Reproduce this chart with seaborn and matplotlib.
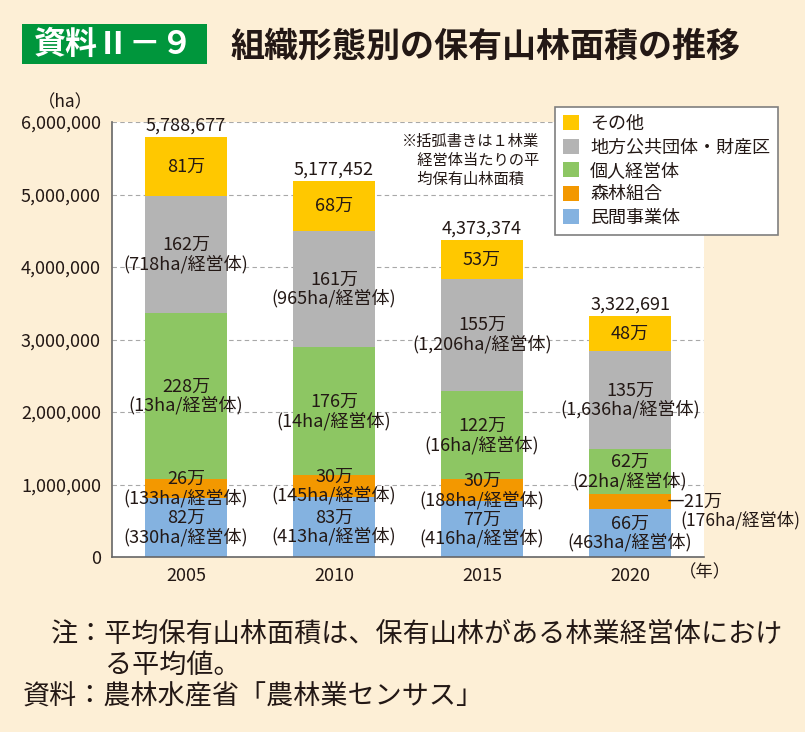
import matplotlib
matplotlib.use("Agg")
import numpy as np
import pandas as pd
import seaborn as sns
import matplotlib.pyplot as plt
from matplotlib.patches import Patch, Rectangle
from matplotlib.ticker import StrMethodFormatter, FixedLocator

# 値は万ha単位（図中のラベル）
years = ["2005", "2010", "2015", "2020"]
categories = ["民間事業体", "森林組合", "個人経営体", "地方公共団体・財産区", "その他"]
minkan = [82, 83, 77, 66]
kumiai = [26, 30, 30, 21]
kojin = [228, 176, 122, 62]
chiho = [162, 161, 155, 135]
sonota = [81, 68, 53, 48]
totals = [5788677, 5177452, 4373374, 3322691]

# 1林業経営体当たり平均保有山林面積（ha）
per_minkan = ["330", "413", "416", "463"]
per_kumiai = ["133", "145", "188", "176"]
per_kojin = ["13", "14", "16", "22"]
per_chiho = ["718", "965", "1,206", "1,636"]

colors = ["#84b2e0", "#f39800", "#8dc663", "#b4b4b4", "#ffc800"]
bg = "#fdefd6"
txt = "#231815"

sns.set_style("white")
plt.rcParams["font.family"] = ["Noto Sans CJK JP", "DejaVu Sans"]

layers = [minkan, kumiai, kojin, chiho, sonota]
per_ha = [per_minkan, per_kumiai, per_kojin, per_chiho, None]

df = pd.DataFrame({"year": years})
cum = np.zeros(len(years))
bottoms = []
for name, vals in zip(categories, layers):
    bottoms.append(cum.copy())
    cum = cum + np.array(vals) * 10000
    df[name] = cum

fig = plt.figure(figsize=(8.05, 7.32), dpi=100, facecolor=bg)
ax = fig.add_axes([112 / 805, 1 - 557 / 732, 592 / 805, 435 / 732])
ax.set_facecolor("white")

# 累積値を上の層から順に重ねて積み上げ棒にする
for k in reversed(range(len(categories))):
    sns.barplot(data=df, x="year", y=categories[k], color=colors[k], width=0.55,
                saturation=1, linewidth=0, errorbar=None, ax=ax, zorder=2)

ax.set_ylim(0, 6000000)
ax.set_xlim(-0.5, 3.5)
ax.set_xlabel("")
ax.set_ylabel("")
ax.yaxis.set_major_locator(FixedLocator(np.arange(0, 6000001, 1000000)))
ax.yaxis.set_major_formatter(StrMethodFormatter("{x:,.0f}"))
ax.yaxis.grid(True, linestyle=(0, (4, 3)), color="#a8a8a8", linewidth=0.8)
ax.set_axisbelow(True)

for s in ["top", "right"]:
    ax.spines[s].set_visible(False)
for s in ["left", "bottom"]:
    ax.spines[s].set_color("#666666")
    ax.spines[s].set_linewidth(1.2)

ax.tick_params(axis="y", which="major", direction="out", length=5, width=1,
               color="#666666", labelsize=13, labelcolor=txt, pad=3)
ax.tick_params(axis="x", which="major", length=0, labelsize=13,
               labelcolor=txt, pad=7)
ax.set_xticks([0.5, 1.5, 2.5, 3.5], minor=True)
ax.tick_params(axis="x", which="minor", direction="in", length=6, width=1,
               color="#666666")

# 区分ごとのラベル（1行目：面積、2行目：1経営体当たり面積）
lab_fs = 13
half = 6.9
for k, (vals, per) in enumerate(zip(layers, per_ha)):
    for i, v in enumerate(vals):
        mid = bottoms[k][i] + v * 10000 / 2
        if k == 1 and i == 3:
            # 2020年の森林組合は棒の外に表示
            ax.annotate(f"―{v}万", xy=(i + 0.275, mid), xytext=(-3, 0),
                        textcoords="offset points", ha="left", va="center",
                        fontsize=lab_fs, color=txt, annotation_clip=False)
            ax.annotate(f"({per[i]}ha/経営体)", xy=(i + 0.275, mid), xytext=(7, -13.5),
                        textcoords="offset points", ha="left", va="center",
                        fontsize=12.5, color=txt, annotation_clip=False)
            continue
        if per is None:
            ax.text(i, mid, f"{v}万", ha="center", va="center", fontsize=lab_fs,
                    color=txt, zorder=5)
            continue
        ax.annotate(f"{v}万", xy=(i, mid), xytext=(0, half),
                    textcoords="offset points", ha="center", va="center",
                    fontsize=lab_fs, color=txt, zorder=5)
        ax.annotate(f"({per[i]}ha/経営体)", xy=(i, mid), xytext=(0, -half),
                    textcoords="offset points", ha="center", va="center",
                    fontsize=lab_fs, color=txt, zorder=5)

for i, t in enumerate(totals):
    ax.annotate(f"{t:,}", xy=(i, df[categories[-1]][i]), xytext=(0, 2),
                textcoords="offset points", ha="center", va="bottom",
                fontsize=13, color=txt)

ax.text(0.49, 0.975, "※括弧書きは１林業\n\u3000経営体当たりの平\n\u3000均保有山林面積",
        transform=ax.transAxes, ha="left", va="top", fontsize=11, color=txt,
        linespacing=1.15)

handles = [Patch(facecolor=colors[k], edgecolor="none") for k in reversed(range(5))]
leg = fig.legend(handles, list(reversed(categories)), loc="upper left",
                 bbox_to_anchor=(555 / 805, 1 - 107 / 732), frameon=True,
                 fancybox=False, edgecolor="#7f7f7f", framealpha=1, fontsize=13,
                 handlelength=0.9, handleheight=0.9, labelspacing=0.3,
                 borderpad=0.45, handletextpad=0.6, borderaxespad=0)
leg.get_frame().set_linewidth(1.2)
for t in leg.get_texts():
    t.set_color(txt)

fig.text(65 / 805, 1 - 102 / 732, "（ha）", ha="center", va="center",
         fontsize=12.5, color=txt)
fig.text(705 / 805, 1 - 572 / 732, "（年）", ha="center", va="center",
         fontsize=12.5, color=txt)

# タイトル
fig.patches.append(Rectangle((22 / 805, 1 - 64 / 732), 185 / 805, 40 / 732,
                             transform=fig.transFigure, facecolor="#00963c",
                             edgecolor="none"))
fig.text(114 / 805, 1 - 45 / 732, "資料Ⅱ－９", ha="center", va="center",
         fontsize=23, fontweight="bold", color="white")
fig.text(230 / 805, 1 - 46 / 732, "組織形態別の保有山林面積の推移", ha="left",
         va="center", fontsize=24.5, fontweight="bold", color=txt)

# 注・資料
fig.text(51 / 805, 1 - 634 / 732, "注：平均保有山林面積は、保有山林がある林業経営体におけ",
         ha="left", va="center", fontsize=19.5, color=txt)
fig.text(105 / 805, 1 - 665 / 732, "る平均値。", ha="left", va="center",
         fontsize=19.5, color=txt)
fig.text(23 / 805, 1 - 697 / 732, "資料：農林水産省「農林業センサス」", ha="left",
         va="center", fontsize=19.5, color=txt)

fig.savefig("out.png", dpi=100, facecolor=fig.get_facecolor())
